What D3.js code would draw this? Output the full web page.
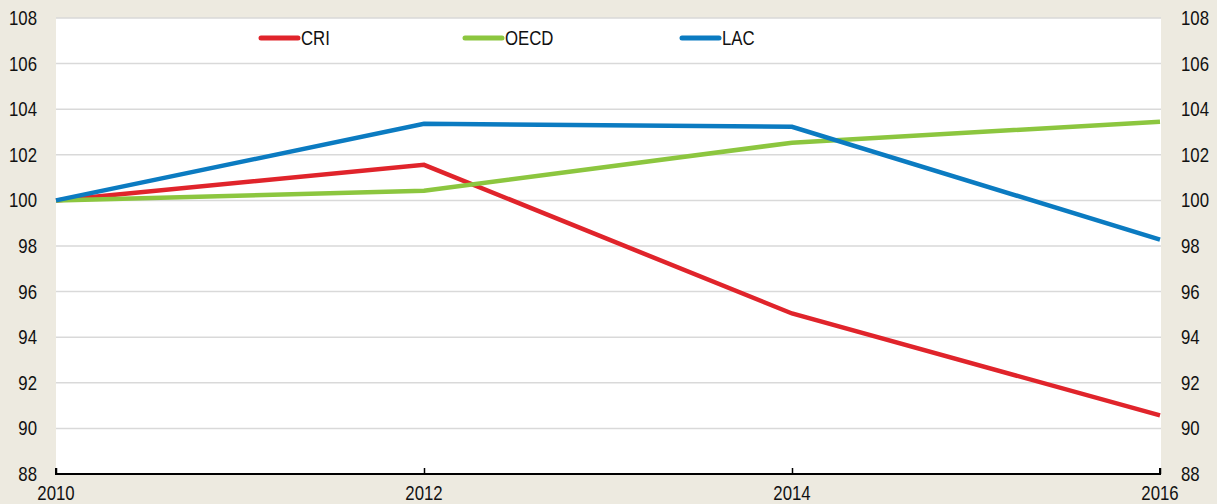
<!DOCTYPE html>
<html>
<head>
<style>
  body { margin: 0; background: #edeae0; }
  svg { display: block; }
  .lbl { font-family: "Liberation Sans", Arial, sans-serif; font-size: 20px; fill: #111; }
</style>
<script src="https://cdn.jsdelivr.net/npm/d3@7"></script>
</head>
<body>
<svg width="1217" height="504"></svg>
<script>
  var years = [2010, 2012, 2014, 2016];
  var yTicks = [88, 90, 92, 94, 96, 98, 100, 102, 104, 106, 108];
  var seriesNames = ["CRI", "OECD", "LAC"];
  var cri = [100, 101.56, 95.04, 90.57];
  var oecd = [100, 100.42, 102.53, 103.45];
  var lac = [100, 103.36, 103.23, 98.28];
  var colors = ["#e0242b", "#8cc63f", "#0b7bc1"];

  var svg = d3.select("svg");
  var plotL = 56, plotR = 1161, plotT = 18, plotB = 474;
  var narrow = 0.84; // labels look like Arial Narrow

  var x = d3.scaleLinear().domain([2010, 2016]).range([plotL, plotR - 1]);
  var y = d3.scaleLinear().domain([88, 108]).range([plotB, plotT]);

  function label(g, px, py, txt, anchor) {
    g.append("text").attr("class", "lbl").attr("text-anchor", anchor)
      .attr("transform", "translate(" + px + "," + py + ") scale(" + narrow + ",1)")
      .text(txt);
  }

  svg.append("rect").attr("x", plotL).attr("y", plotT).attr("width", plotR - plotL).attr("height", plotB - plotT).attr("fill", "#fff");

  // gridlines
  svg.append("g").selectAll("line").data(yTicks.filter(function (d) { return d > 88; }))
    .enter().append("line")
    .attr("x1", plotL).attr("x2", plotR)
    .attr("y1", function (d) { return y(d); }).attr("y2", function (d) { return y(d); })
    .attr("stroke", "#d9d9d9").attr("stroke-width", 1.5);

  // y labels on both sides
  var gy = svg.append("g");
  yTicks.forEach(function (d) {
    label(gy, 37, y(d) + 7, d, "end");
    label(gy, 1181, y(d) + 7, d, "start");
  });

  // x axis
  var xAxis = d3.axisBottom(x).tickValues(years).tickFormat("").tickSize(-6);
  var gx = svg.append("g").attr("transform", "translate(0," + plotB + ")").call(xAxis);
  gx.select(".domain").attr("stroke", "#000").attr("stroke-width", 2).attr("d", "M" + plotL + ",-6V0H" + (plotR - 1) + "V-6");
  gx.selectAll(".tick line").attr("stroke", "#000").attr("stroke-width", 1.5);
  years.forEach(function (yr) { label(svg, x(yr), 500, yr, "middle"); });

  var line = d3.line().x(function (d, i) { return x(years[i]); }).y(function (d) { return y(d); });
  [cri, oecd, lac].forEach(function (s, i) {
    svg.append("path").datum(s).attr("d", line).attr("fill", "none")
      .attr("stroke", colors[i]).attr("stroke-width", 4.5);
  });

  // legend
  var legendX = [261, 465, 682];
  seriesNames.forEach(function (n, i) {
    svg.append("line").attr("x1", legendX[i]).attr("x2", legendX[i] + 37)
      .attr("y1", 38).attr("y2", 38).attr("stroke", colors[i]).attr("stroke-width", 5).attr("stroke-linecap", "round");
    label(svg, legendX[i] + 40, 45, n, "start");
  });
</script>
</body>
</html>
